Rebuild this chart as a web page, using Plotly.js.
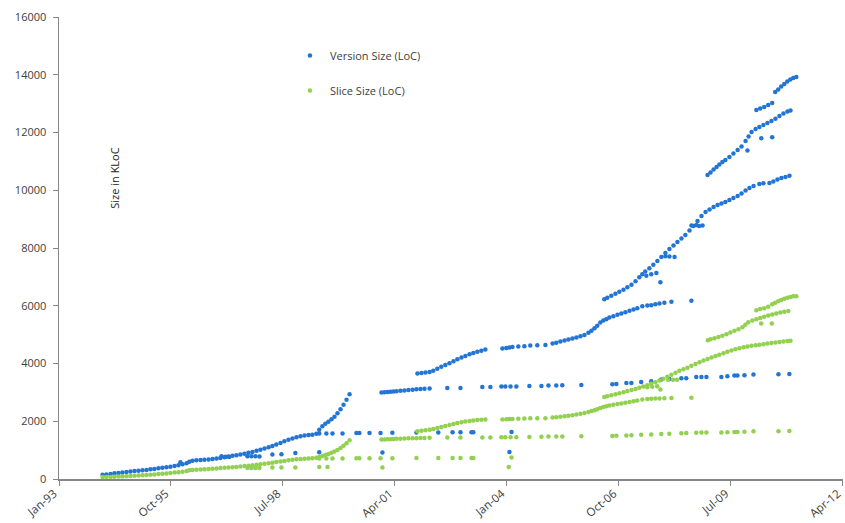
<!DOCTYPE html>
<html>
<head>
<meta charset="utf-8">
<script src="https://cdn.plot.ly/plotly-3.0.1.min.js"></script>
<style>
html,body{margin:0;padding:0;background:#fff;}
#chart{width:845px;height:523px;}
</style>
</head>
<body>
<div id="chart"></div>
<script>
// ---------------- Version Size (LoC) ----------------
// development line 1994-2000
const verDevADates = ['1994-01-27','1994-03-02','1994-04-08','1994-05-13','1994-06-18','1994-07-23','1994-08-29','1994-10-04','1994-11-09','1994-12-15','1995-01-20','1995-02-25','1995-04-01','1995-05-06','1995-06-11','1995-07-17','1995-08-22','1995-09-27','1995-11-03','1995-12-08','1996-01-14','1996-02-19','1996-03-15','1996-04-12','1996-05-17','1996-06-23','1996-07-28','1996-09-03','1996-10-09','1996-11-14','1996-12-19','1997-01-25','1997-03-01','1997-04-06','1997-05-11','1997-06-16','1997-07-22','1997-08-27','1997-10-02','1997-11-08','1997-12-13','1998-01-18','1998-02-24','1998-03-30','1998-05-04','1998-06-10','1998-07-15','1998-08-21','1998-09-26','1998-11-01','1998-12-07','1999-01-12','1999-02-17','1999-03-23','1999-04-28','1999-05-24','1999-06-21','1999-07-18','1999-08-14','1999-09-11','1999-10-08','1999-11-04','1999-12-01','1999-12-28','2000-01-24','2000-02-20'];
const verDevAValues = [146,156,170,198,208,222,243,256,274,284,302,315,336,350,371,388,405,426,447,475,510,544,596,631,648,659,665,672,690,707,731,752,776,801,821,846,873,905,939,977,1016,1057,1099,1147,1196,1251,1307,1355,1404,1445,1480,1504,1522,1535,1567,1705,1827,1913,1983,2069,2156,2277,2416,2572,2745,2936];
// scattered releases near the line
const verExtraDates = ['1995-12-26','1996-12-28','1997-02-04','1997-03-08'];
const verExtraValues = [579,787,770,760];
// older stable line (lower)
const verStableADates = ['1997-08-18','1997-09-23','1997-10-29','1997-12-04','1998-03-30','1998-06-19','1998-10-22','1999-05-24','2000-12-11','2004-01-24'];
const verStableAValues = [787,790,787,780,846,856,901,925,915,936];
// stable line 1999-2004
const stableBDates = ['1999-05-24','1999-07-27','1999-09-20','1999-12-19','2000-04-22','2000-05-18','2000-08-17','2000-11-24','2001-03-10','2001-10-12','2002-04-26','2002-09-01','2002-11-11','2003-02-18','2003-03-06','2004-02-12'];
const verStableBValues = [1573,1573,1580,1580,1590,1590,1590,1595,1600,1608,1610,1615,1615,1620,1620,1629];
// stable line 2001-2011
const stableCDates = ['2000-12-03','2000-12-30','2001-01-26','2001-02-22','2001-03-19','2001-04-15','2001-05-21','2001-06-26','2001-08-01','2001-09-07','2001-10-12','2001-11-17','2001-12-23','2002-02-07','2002-07-16','2002-11-11','2003-05-26','2003-08-06','2003-11-13','2003-12-18','2004-02-03','2004-03-26','2004-07-21','2004-11-06','2005-01-08','2005-03-19','2005-05-12','2005-10-30','2006-08-04','2006-09-09','2006-12-08','2007-01-22','2007-04-20','2007-07-19','2007-10-17','2007-12-28','2008-04-14','2008-05-28','2008-08-26','2008-10-11','2008-11-25','2009-04-08','2009-06-01','2009-08-03','2009-08-30','2009-11-01','2010-01-21','2010-09-02','2010-12-09'];
const verStableCValues = [2995,3005,3012,3019,3029,3040,3053,3067,3081,3095,3109,3116,3126,3133,3154,3154,3189,3189,3202,3202,3202,3202,3223,3223,3237,3237,3248,3258,3282,3289,3327,3327,3362,3386,3445,3466,3490,3490,3535,3535,3535,3535,3560,3583,3583,3594,3618,3628,3640];
// development line 2001-2003
const devBDates = ['2001-10-21','2001-11-26','2002-01-01','2002-02-07','2002-03-12','2002-04-17','2002-05-23','2002-06-28','2002-08-04','2002-09-09','2002-10-14','2002-11-20','2002-12-25','2003-01-31','2003-03-06','2003-04-11','2003-05-17','2003-06-22'];
const verDevBValues = [3653,3671,3688,3705,3750,3820,3889,3951,4010,4079,4149,4208,4263,4322,4367,4409,4443,4488];
// line from late 2003, continuing as a branch to 2008
const lineDDates = ['2003-11-22','2003-12-27','2004-01-24','2004-02-20','2004-04-13','2004-06-06','2004-07-29','2004-09-30','2004-12-12','2005-02-14','2005-03-19','2005-04-25','2005-06-01','2005-07-06','2005-08-11','2005-09-16','2005-10-22','2005-11-27','2006-01-02','2006-01-29','2006-02-25','2006-03-22','2006-04-18','2006-05-15','2006-06-11','2006-07-08','2006-08-13','2006-09-19','2006-10-24','2006-11-29','2007-01-05','2007-02-10','2007-03-16','2007-04-30','2007-06-14','2007-07-19','2007-08-25','2007-10-01','2007-11-14','2008-01-16','2008-07-13'];
const verLineDValues = [4520,4540,4558,4575,4589,4599,4624,4634,4644,4693,4721,4762,4800,4835,4866,4901,4946,4991,5067,5137,5223,5310,5421,5490,5535,5594,5639,5691,5733,5778,5823,5871,5916,5986,6010,6020,6055,6079,6107,6135,6170];
// main line from mid 2006
const mainEDates = ['2006-05-24','2006-06-20','2006-07-26','2006-09-01','2006-10-06','2006-11-12','2006-12-17','2007-01-23','2007-02-28','2007-04-03','2007-04-30','2007-05-26','2007-07-02','2007-08-07','2007-09-12','2007-10-18','2007-11-23','2007-12-29','2008-02-04','2008-03-10','2008-04-15','2008-05-20','2008-06-26','2008-08-01','2008-09-06','2008-10-12','2008-11-17','2008-12-23','2009-01-28','2009-03-05','2009-04-09','2009-05-14','2009-06-19','2009-07-25','2009-09-01','2009-10-06','2009-11-11','2009-12-16','2010-01-22','2010-03-15','2010-04-20','2010-06-13','2010-07-18','2010-08-24','2010-09-29','2010-11-04','2010-12-10'];
const verMainEValues = [6228,6280,6350,6419,6488,6558,6644,6731,6852,6991,7095,7182,7303,7424,7546,7684,7823,7962,8083,8204,8325,8447,8603,8759,8932,9105,9244,9331,9417,9486,9545,9597,9660,9729,9798,9885,9989,10076,10145,10214,10239,10249,10301,10370,10422,10457,10502];
// upper line from late 2008
const upperFDates = ['2008-12-05','2009-01-01','2009-01-28','2009-02-24','2009-03-21','2009-04-17','2009-05-14','2009-06-19','2009-07-25','2009-09-01','2009-10-06','2009-11-11','2009-12-08','2010-01-04','2010-02-09','2010-03-15','2010-04-20','2010-05-26','2010-07-01','2010-08-06','2010-09-11','2010-10-17','2010-11-22','2010-12-19'];
const verUpperFValues = [10526,10613,10717,10803,10890,10977,11046,11150,11271,11393,11514,11705,11861,12017,12121,12190,12259,12328,12398,12478,12571,12658,12727,12762];
// top line from 2010
const topGDates = ['2010-02-16','2010-03-22','2010-04-27','2010-06-02','2010-07-08','2010-08-04','2010-08-31','2010-09-27','2010-10-24','2010-11-20','2010-12-17','2011-01-13','2011-02-09'];
const verTopGValues = [12779,12832,12884,12953,13022,13403,13490,13594,13680,13767,13836,13888,13923];
// short offshoots and isolated releases
const verStubDates = ['2007-06-05','2007-07-19','2007-09-03','2007-10-09','2007-11-23','2007-12-29','2008-02-13','2008-07-14','2008-08-27','2008-09-20','2008-10-21','2009-11-28','2010-04-01','2010-07-08'];
const verStubValues = [7043,7095,7130,6818,7713,7702,7684,8776,8793,8759,8776,11375,11798,11833];

// ---------------- Slice Size (LoC) ----------------
const sliceDevAValues = [69,69,73,76,83,90,97,104,111,118,128,139,149,159,170,180,194,208,222,236,253,274,302,315,322,329,336,347,357,367,378,388,399,409,419,433,447,461,475,492,510,527,544,565,586,607,627,648,665,683,693,704,711,717,735,759,794,828,863,905,950,1005,1071,1151,1237,1341];
const sliceStableADates = ['1997-08-18','1997-09-23','1997-10-29','1997-12-04','1998-03-30','1998-06-19','1998-10-22','1999-05-24','1999-08-06','2000-12-11','2004-01-18'];
const sliceStableAValues = [378,378,380,382,395,395,395,416,416,395,416];
const sliceStableBValues = [707,707,707,710,715,715,715,718,720,725,728,728,728,728,728,745];
const sliceStableCValues = [1366,1369,1376,1380,1386,1390,1397,1400,1407,1411,1414,1418,1421,1425,1435,1435,1438,1438,1445,1445,1445,1445,1456,1459,1470,1470,1473,1480,1490,1494,1504,1515,1532,1542,1556,1567,1584,1591,1601,1608,1608,1612,1619,1629,1629,1639,1653,1653,1664];
const sliceDevBValues = [1653,1671,1688,1705,1730,1764,1799,1834,1868,1903,1937,1965,1990,2010,2028,2041,2052,2062];
const sliceLineDValues = [2059,2069,2076,2080,2087,2093,2104,2104,2104,2128,2139,2156,2173,2187,2208,2232,2260,2288,2322,2353,2381,2416,2457,2492,2520,2544,2572,2596,2617,2641,2669,2693,2721,2752,2769,2780,2787,2787,2797,2808,2814];
const sliceMainEDates = ['2006-05-24','2006-06-20','2006-07-26','2006-09-01','2006-10-06','2006-11-12','2006-12-17','2007-01-23','2007-02-28','2007-04-03','2007-05-08','2007-06-14','2007-07-19','2007-08-25','2007-10-01','2007-11-05','2007-12-11','2008-01-16','2008-02-22','2008-03-28','2008-05-03','2008-06-08','2008-07-13','2008-08-19','2008-09-24','2008-10-30','2008-12-05','2009-01-10','2009-02-15','2009-03-21','2009-04-27','2009-06-01','2009-07-07','2009-08-12','2009-09-17','2009-10-24','2009-11-28','2010-01-03','2010-02-09','2010-03-15','2010-04-20','2010-05-26','2010-07-01','2010-08-06','2010-09-11','2010-10-17','2010-11-22','2010-12-19'];
const sliceMainEValues = [2839,2866,2901,2936,2970,3005,3047,3081,3119,3161,3203,3248,3300,3352,3411,3473,3542,3612,3681,3750,3802,3854,3924,3982,4045,4104,4159,4211,4260,4305,4357,4409,4454,4495,4530,4565,4589,4613,4634,4651,4669,4693,4714,4731,4748,4762,4780,4787];
const sliceUpperFDates = ['2008-12-08','2009-01-01','2009-02-05','2009-03-13','2009-04-17','2009-05-23','2009-06-28','2009-08-03','2009-09-08','2009-10-14','2009-11-09','2009-12-05','2010-01-11','2010-02-16','2010-03-22','2010-04-27','2010-06-02','2010-07-08','2010-08-13','2010-09-18','2010-10-24','2010-11-29'];
const sliceUpperFValues = [4807,4842,4877,4922,4963,5015,5074,5130,5182,5258,5345,5431,5490,5535,5580,5622,5663,5698,5733,5767,5795,5819];
const sliceTopGValues = [5847,5889,5916,5968,6055,6107,6159,6201,6246,6280,6305,6326,6332];
const sliceStubDates = ['2007-06-14','2007-07-28','2007-09-10','2007-10-09','2007-12-18','2008-01-30','2008-03-06','2010-03-31','2010-07-05'];
const sliceStubValues = [3178,3196,3213,3098,3438,3438,3438,5386,5386];

const versionDates = [].concat(verDevADates, verExtraDates, verStableADates, stableBDates, stableCDates, devBDates, lineDDates, mainEDates, upperFDates, topGDates, verStubDates);
const versionValues = [].concat(verDevAValues, verExtraValues, verStableAValues, verStableBValues, verStableCValues, verDevBValues, verLineDValues, verMainEValues, verUpperFValues, verTopGValues, verStubValues);
const sliceDates = [].concat(verDevADates, sliceStableADates, stableBDates, stableCDates, devBDates, lineDDates, sliceMainEDates, sliceUpperFDates, topGDates, sliceStubDates);
const sliceValues = [].concat(sliceDevAValues, sliceStableAValues, sliceStableBValues, sliceStableCValues, sliceDevBValues, sliceLineDValues, sliceMainEValues, sliceUpperFValues, sliceTopGValues, sliceStubValues);

const seriesNames = ['Version Size (LoC)', 'Slice Size (LoC)'];
const yTitle = 'Size in KLoC';

const FONT = '"Open Sans", "DejaVu Sans", sans-serif';
const traces = [
  {x: versionDates, y: versionValues, name: seriesNames[0], type: 'scatter', mode: 'markers',
   legendgroup: 'v', marker: {color: '#2275d5', size: 4.5}},
  {x: sliceDates, y: sliceValues, name: seriesNames[1], type: 'scatter', mode: 'markers',
   legendgroup: 's', marker: {color: '#92d050', size: 4.5}}
];
const layout = {
  width: 845, height: 523,
  margin: {l: 59, r: 2, t: 17, b: 44, pad: 0},
  paper_bgcolor: '#fff', plot_bgcolor: '#fff',
  font: {family: FONT, size: 11, color: '#404040'},
  showlegend: true,
  legend: {x: 0.2946, y: 0.948, xanchor: 'left', yanchor: 'top', traceorder: 'grouped',
           tracegroupgap: 16, font: {family: FONT, size: 11, color: '#404040'}, bgcolor: 'rgba(0,0,0,0)'},
  xaxis: {type: 'date', range: ['1993-01-01', '2012-04-03'], tick0: '1993-01-01', dtick: 'M33',
          tickformat: '%b-%y', tickangle: -40, showgrid: false, zeroline: false,
          tickfont: {family: FONT, size: 11.5, color: '#404040'}, ticklabeloverflow: 'allow',
          ticklabelstandoff: -3, ticklabelshift: -5,
          showline: true, linecolor: '#868686', linewidth: 1.5, ticks: 'outside', ticklen: 5,
          tickcolor: '#868686', automargin: false},
  yaxis: {range: [0, 16000], dtick: 2000, showgrid: false, zeroline: false, showline: true,
          linecolor: '#868686', linewidth: 1.5, ticks: 'outside', ticklen: 5, tickcolor: '#868686',
          tickformat: 'd', automargin: false, ticklabelstandoff: 4},
  annotations: [{text: yTitle, xref: 'paper', yref: 'paper', x: 0.0714, y: 0.652, textangle: -90,
                 xanchor: 'center', yanchor: 'middle',
                 showarrow: false, font: {family: FONT, size: 11, color: '#222'}}],
  hovermode: false
};
Plotly.newPlot('chart', traces, layout, {displayModeBar: false, staticPlot: true});
</script>
</body>
</html>
